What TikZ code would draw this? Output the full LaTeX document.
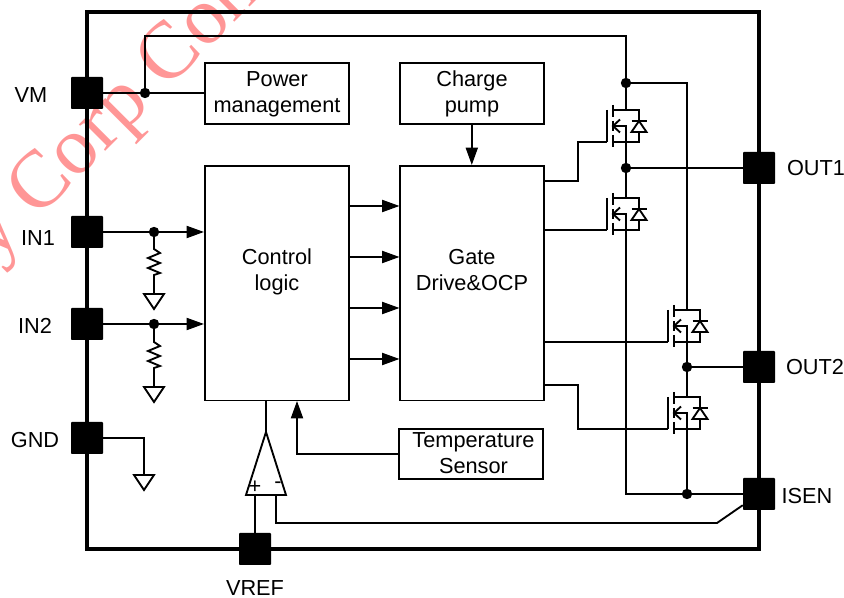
\documentclass[tikz,border=0pt]{standalone}
\usepackage{fontspec}
\setmainfont{Liberation Sans}
\newfontfamily\markfont{Liberation Serif}
\usetikzlibrary{arrows.meta,calc,positioning}

\definecolor{markpink}{RGB}{255,150,150}

\tikzset{
  wire/.style={line width=1.4pt, draw=black},
  flow/.style={wire, -{Triangle[length=13pt,width=9pt]}},
  pad/.style={fill=black, rounded corners=0.6pt, minimum size=24pt, inner sep=0pt},
  block/.style={draw=black, line width=1.2pt, anchor=north west},
  blocktext/.style={align=center, inner sep=0pt},
  joint/.style={circle, fill=black, minimum size=7.8pt, inner sep=0pt},
  pinlabel/.style={inner sep=0pt},
  gnd/.pic={
    \draw[wire, line join=miter] (-10,0) -- (10,0) -- (0,15) -- cycle;
  },
  res/.pic={
    \draw[wire, line join=miter] (0,0) -- (0,2) -- (6,6) -- (-6,11) -- (6,16) -- (-6,21) -- (6,26) -- (0,28) -- (0,30);
  },
  fet/.pic={
    \coordinate (-drain) at (0,-16);
    \coordinate (-source) at (0,16);
    \coordinate (-gate) at (-19,16);
    \draw[wire] (-19,-16) -- (-19,16);
    \draw[wire] (-13,-21) -- (-13,-9) (-13,-5) -- (-13,5) (-13,9) -- (-13,21);
    \draw[wire, line join=miter] (-6,-6.5) -- (-13,0) -- (-6,6.5);
    \draw[wire] (-13,0) -- (0,0) -- (0,16);
    \draw[wire] (-13,-16) -- (13,-16) -- (13,16) -- (-13,16);
    \draw[wire, fill=white, line join=miter] (13,-5) -- (5.5,6) -- (20.5,6) -- cycle;
    \draw[wire] (5.5,-5) -- (20.5,-5);
  }
}

\begin{document}
\begin{tikzpicture}[x=0.75pt, y=-0.75pt, font=\fontsize{16.3}{19.6}\selectfont]

\useasboundingbox (0,0) rectangle (844,598);

% Watermark, cut off by the page.
\node[text=markpink, font=\markfont\fontsize{61}{61}\selectfont, rotate=45, anchor=base west, inner sep=0pt] (stamp) at (-6,263) {y Corp Con};

% Package outline.
\draw[line width=2.5pt] (87,12) rectangle (759,549);

% Pads.
\node[pad] (vm) at (87,93) {};
\node[pad] (inone) at (87,232) {};
\node[pad] (intwo) at (87,324) {};
\node[pad] (gnd) at (87,438) {};
\node[pad] (vref) at (255,549) {};
\node[pad] (outone) at (759,168) {};
\node[pad] (outtwo) at (759,367) {};
\node[pad] (isen) at (759,494) {};

\node[pinlabel] at (31,95) {VM};
\node[pinlabel] at (38,238) {IN1};
\node[pinlabel] at (35,326) {IN2};
\node[pinlabel] at (35,440) {GND};
\node[pinlabel] at (255,588) {VREF};
\node[pinlabel] at (816,168) {OUT1};
\node[pinlabel] at (815,367) {OUT2};
\node[pinlabel] at (807,496) {ISEN};

% Blocks.
\node[block, minimum width=108pt, minimum height=46pt] (power) at (204,62) {};
\node[block, minimum width=108pt, minimum height=46pt] (pump) at (399,62) {};
\node[block, minimum width=108pt, minimum height=176pt] (logic) at (204,165) {};
\node[block, minimum width=108pt, minimum height=176pt] (gate) at (399,165) {};
\node[block, minimum width=108pt, minimum height=37.5pt] (temp) at (398,428) {};
\node[blocktext] (powertext) at (277,94) {Power\\management};
\node[blocktext] (pumptext) at (472,94) {Charge\\pump};
\node[blocktext] (logictext) at (277,272) {Control\\logic};
\node[blocktext] (gatetext) at (472,270) {Gate\\Drive\&OCP};
\node[blocktext] (temptext) at (473.5,453) {Temperature\\Sensor};

% Joints.
\node[joint] (vmjoint) at (145,93) {};
\node[joint] (topjoint) at (626,83) {};
\node[joint] (onejoint) at (626,168) {};
\node[joint] (twojoint) at (687,367) {};
\node[joint] (lowjoint) at (687,494) {};
\node[joint] (inonejoint) at (154,232) {};
\node[joint] (intwojoint) at (154,324) {};

% Supply rail.
\draw[wire] (vm) -- (power.west |- vm);
\draw[wire] (vmjoint) -- (145,36) -- (626,36) -- (topjoint);
\draw[wire] (topjoint) -- (687,83) -- (687,310);

% Bridge.
\pic (fetone) at (626,126) {fet};
\pic (fettwo) at (626,214) {fet};
\pic (fetthree) at (687,326) {fet};
\pic (fetfour) at (687,413) {fet};

\draw[wire] (topjoint) -- (fetone-drain);
\draw[wire] (fetone-source) -- (onejoint) -- (fettwo-drain);
\draw[wire] (onejoint) -- (outone);
\draw[wire] (fettwo-source) -- (626,494) -- (isen.west |- 626,494);
\draw[wire] (fetthree-source) -- (twojoint) -- (fetfour-drain);
\draw[wire] (twojoint) -- (outtwo);
\draw[wire] (fetfour-source) -- (lowjoint);

\draw[wire] (544,181) -- (578,181) -- (578,142) -- (fetone-gate);
\draw[wire] (544,230) -- (fettwo-gate);
\draw[wire] (544,342) -- (fetthree-gate);
\draw[wire] (544,385) -- (578,385) -- (578,429) -- (fetfour-gate);

% Inputs.
\draw[flow] (inone) -- (logic.west |- inone);
\draw[flow] (intwo) -- (logic.west |- intwo);
\pic (resone) at (154,247) {res};
\pic (restwo) at (154,340) {res};
\draw[wire] (inonejoint) -- (154,247);
\draw[wire] (intwojoint) -- (154,340);
\draw[wire] (154,277) -- (154,293);
\draw[wire] (154,370) -- (154,386);
\pic at (154,294) {gnd};
\pic at (154,387) {gnd};

\draw[wire] (gnd) -- (144,438) -- (144,475);
\pic at (144,475) {gnd};

% Logic to gate drive.
\foreach \y in {206,257,308,359}{
  \draw[flow] (349,\y) -- (399.5,\y);
}
\draw[flow] (pump) -- (gate);

% Sense amplifier.
\node[inner sep=0pt] (ampplus) at (255,487) {+};
\node[inner sep=0pt] (ampminus) at (278,485) {-};
\draw[wire, line join=miter] (266,432) -- (246,495) -- (286,495) -- cycle;
\draw[wire] (266,432) -- (266,401);
\draw[wire] (vref) -- (255,495);
\draw[wire] (276,495) -- (276,523) -- (717,523) -- (isen);
\draw[flow] (temp.west) -| (297,401);

\end{tikzpicture}
\end{document}
